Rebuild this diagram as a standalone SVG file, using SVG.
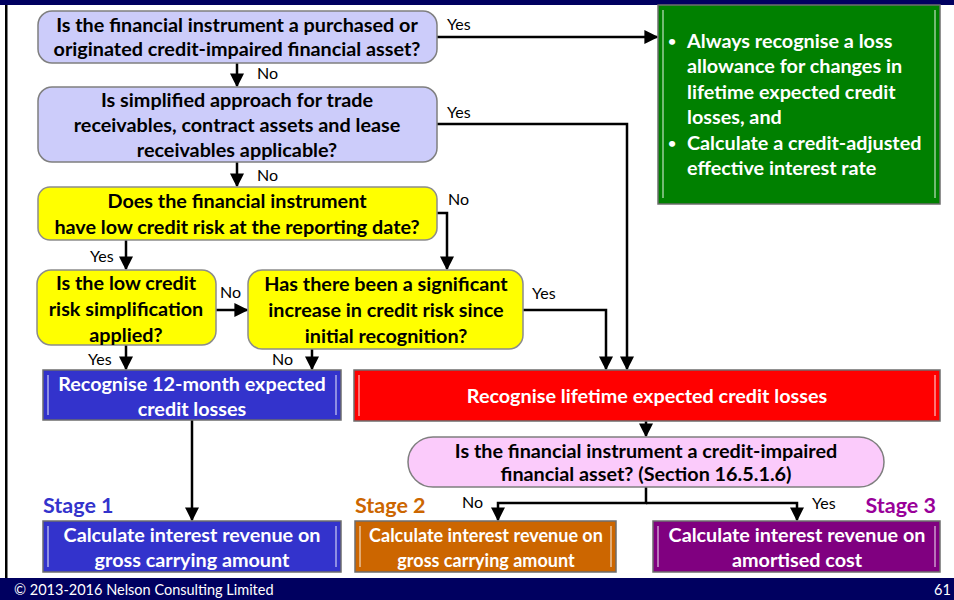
<svg xmlns="http://www.w3.org/2000/svg" width="954" height="600" viewBox="0 0 954 600">
<defs>
<marker id="ahb" viewBox="0 0 10 10" refX="9" refY="5" markerWidth="14" markerHeight="14" markerUnits="userSpaceOnUse" orient="auto">
<path d="M0,0 L10,5 L0,10 z" fill="#000"/>
</marker>
</defs>
<style>
text{font-family:Lato,"Liberation Sans",sans-serif;}
.q{font-weight:bold;font-size:19.8px;fill:#000;text-anchor:middle;}
.w{font-weight:bold;font-size:19.8px;fill:#fff;text-anchor:middle;}
.ws{font-weight:bold;font-size:18px;fill:#fff;text-anchor:middle;}
.g{font-weight:bold;font-size:19.8px;fill:#fff;}
.bul{font-weight:bold;font-size:14px;fill:#fff;}
.lbl{font-size:16px;fill:#000;}
.stage{font-weight:bold;font-size:21.5px;}
.lav{fill:#CCCCFA;stroke:#7f7f7f;stroke-width:1.5;}
.yel{fill:#FFFF00;stroke:#8c8c8c;stroke-width:1.5;}
.pink{fill:#FBCBFB;stroke:#7f7f7f;stroke-width:1.5;}
.box{stroke:#6d6d6d;stroke-width:1.5;}
.hl{stroke:#ffffff;stroke-opacity:0.45;stroke-width:2;fill:none;}
.ln{stroke:#000;stroke-width:2.5;fill:none;}
.foot{font-size:14.5px;fill:#fff;}
</style>
<rect x="0" y="0" width="954" height="600" fill="#fff"/>
<rect x="0" y="0" width="954" height="5" fill="#000060"/>
<rect x="5" y="5" width="2.5" height="573" fill="#000"/>
<rect x="0" y="578" width="954" height="22" fill="#000060"/>
<text class="foot" x="14" y="595">© 2013-2016 Nelson Consulting Limited</text>
<text class="foot" x="934" y="595">61</text>

<g id="connectors">
<line class="ln" x1="237" y1="63" x2="237" y2="86" marker-end="url(#ahb)"/>
<line class="ln" x1="237" y1="162" x2="237" y2="186" marker-end="url(#ahb)"/>
<polyline class="ln" points="437,37 657,37" marker-end="url(#ahb)"/>
<polyline class="ln" points="437,124 627,124 627,369" marker-end="url(#ahb)"/>
<polyline class="ln" points="437,213 447,213 447,269" marker-end="url(#ahb)"/>
<line class="ln" x1="126" y1="240" x2="126" y2="269" marker-end="url(#ahb)"/>
<line class="ln" x1="216" y1="310" x2="247" y2="310" marker-end="url(#ahb)"/>
<polyline class="ln" points="523,310 606,310 606,369" marker-end="url(#ahb)"/>
<line class="ln" x1="126" y1="345" x2="126" y2="369" marker-end="url(#ahb)"/>
<line class="ln" x1="312" y1="349" x2="312" y2="369" marker-end="url(#ahb)"/>
<line class="ln" x1="192" y1="420" x2="192" y2="520" marker-end="url(#ahb)"/>
<line class="ln" x1="646" y1="421" x2="646" y2="436" marker-end="url(#ahb)"/>
<polyline class="ln" points="646,487 646,503 498,503 498,520" marker-end="url(#ahb)"/>
<polyline class="ln" points="646,503 797,503 797,520" marker-end="url(#ahb)"/>
<text class="lbl" x="447" y="30">Yes</text>
<text class="lbl" x="257" y="79">No</text>
<text class="lbl" x="447" y="118">Yes</text>
<text class="lbl" x="257" y="181">No</text>
<text class="lbl" x="448" y="205">No</text>
<text class="lbl" x="90" y="262">Yes</text>
<text class="lbl" x="220" y="298">No</text>
<text class="lbl" x="532" y="299">Yes</text>
<text class="lbl" x="88" y="365">Yes</text>
<text class="lbl" x="272" y="365">No</text>
<text class="lbl" x="462" y="508">No</text>
<text class="lbl" x="812" y="509">Yes</text>
</g>

<g id="n1">
<rect class="lav" x="38" y="11" width="399" height="52" rx="14"/>
<text class="q" x="237" y="32">Is the financial instrument a purchased or</text>
<text class="q" x="237" y="56">originated credit-impaired financial asset?</text>
</g>
<g id="n2">
<rect class="lav" x="38" y="87" width="399" height="75" rx="14"/>
<text class="q" x="237" y="107">Is simplified approach for trade</text>
<text class="q" x="237" y="132">receivables, contract assets and lease</text>
<text class="q" x="237" y="157">receivables applicable?</text>
</g>
<g id="n3">
<rect class="yel" x="38" y="187" width="399" height="53" rx="12"/>
<text class="q" x="237" y="208">Does the financial instrument</text>
<text class="q" x="237" y="234">have low credit risk at the reporting date?</text>
</g>
<g id="n4">
<rect class="yel" x="37" y="270" width="179" height="75" rx="14"/>
<text class="q" x="126" y="290">Is the low credit</text>
<text class="q" x="126" y="316">risk simplification</text>
<text class="q" x="126" y="342">applied?</text>
</g>
<g id="n5">
<rect class="yel" x="248" y="270" width="275" height="79" rx="14"/>
<text class="q" x="386" y="291">Has there been a significant</text>
<text class="q" x="386" y="317">increase in credit risk since</text>
<text class="q" x="386" y="343">initial recognition?</text>
</g>
<g id="green">
<rect class="box" x="658" y="5" width="282" height="199" fill="#008000"/>
<line class="hl" x1="663" y1="10" x2="663" y2="198"/>
<line class="hl" x1="935" y1="10" x2="935" y2="198"/>
<text class="bul" x="668" y="46">•</text>
<text class="g" x="687" y="48">Always recognise a loss</text>
<text class="g" x="687" y="73">allowance for changes in</text>
<text class="g" x="687" y="99">lifetime expected credit</text>
<text class="g" x="687" y="124">losses, and</text>
<text class="bul" x="668" y="148">•</text>
<text class="g" x="687" y="150">Calculate a credit-adjusted</text>
<text class="g" x="687" y="175">effective interest rate</text>
</g>
<g id="r12">
<rect class="box" x="43" y="370" width="298" height="50" fill="#3333CC"/>
<line class="hl" x1="48" y1="375" x2="48" y2="415"/>
<line class="hl" x1="336" y1="375" x2="336" y2="415"/>
<text class="w" x="192" y="391">Recognise 12-month expected</text>
<text class="w" x="192" y="416">credit losses</text>
</g>
<g id="rlife">
<rect class="box" x="354" y="370" width="586" height="51" fill="#FF0000"/>
<line class="hl" x1="359" y1="375" x2="359" y2="416"/>
<line class="hl" x1="935" y1="375" x2="935" y2="416"/>
<text class="w" x="647" y="403">Recognise lifetime expected credit losses</text>
</g>
<g id="n6">
<rect class="pink" x="408" y="437" width="476" height="50" rx="25"/>
<text class="q" x="646" y="458">Is the financial instrument a credit-impaired</text>
<text class="q" x="646" y="481">financial asset? (Section 16.5.1.6)</text>
</g>
<g id="stages">
<text class="stage" x="43" y="513" fill="#3333CC">Stage 1</text>
<text class="stage" x="355" y="513" fill="#CC6600">Stage 2</text>
<text class="stage" x="936" y="513" fill="#990099" text-anchor="end">Stage 3</text>
</g>
<g id="s1">
<rect class="box" x="43" y="521" width="298" height="51" fill="#3333CC"/>
<line class="hl" x1="48" y1="526" x2="48" y2="567"/>
<line class="hl" x1="336" y1="526" x2="336" y2="567"/>
<text class="w" x="192" y="542">Calculate interest revenue on</text>
<text class="w" x="192" y="567">gross carrying amount</text>
</g>
<g id="s2">
<rect class="box" x="355" y="521" width="261" height="51" fill="#CC6600"/>
<line class="hl" x1="360" y1="526" x2="360" y2="567"/>
<line class="hl" x1="611" y1="526" x2="611" y2="567"/>
<text class="ws" x="486" y="542">Calculate interest revenue on</text>
<text class="ws" x="486" y="567">gross carrying amount</text>
</g>
<g id="s3">
<rect class="box" x="653" y="521" width="287" height="51" fill="#800080"/>
<line class="hl" x1="658" y1="526" x2="658" y2="567"/>
<line class="hl" x1="935" y1="526" x2="935" y2="567"/>
<text class="w" x="797" y="542">Calculate interest revenue on</text>
<text class="w" x="797" y="567">amortised cost</text>
</g>
</svg>
